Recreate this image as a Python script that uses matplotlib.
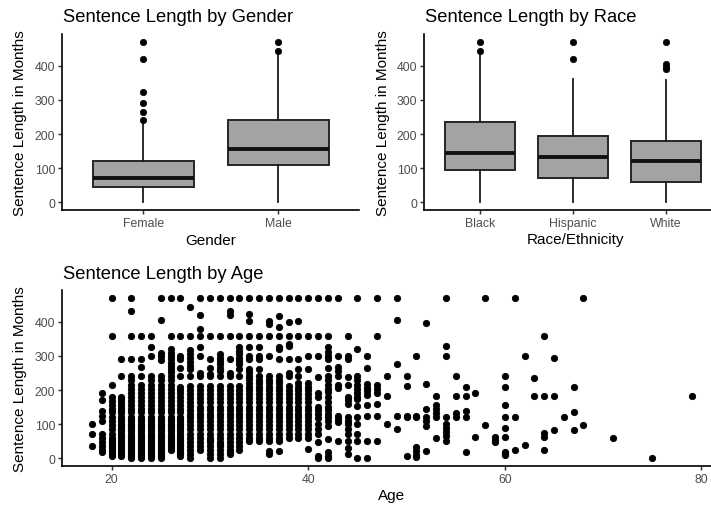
import matplotlib
matplotlib.use("Agg")
import matplotlib.pyplot as plt

plt.rcParams['font.family'] = ['Liberation Sans', 'DejaVu Sans']

# ---------------- data ----------------
gender_labels = ["Female", "Male"]
gender_q1 = [43, 108]
gender_med = [72, 156]
gender_q3 = [120, 240]
gender_whislo = [0, 0]
gender_whishi = [234, 436]
gender_outliers = [[240, 264, 292, 324, 420, 470], [444, 470]]

race_labels = ["Black", "Hispanic", "White"]
race_q1 = [95, 72, 60]
race_med = [144, 131, 120]
race_q3 = [235, 194, 180]
race_whislo = [0, 0, 0]
race_whishi = [436, 362, 360]
race_outliers = [[444, 470], [420, 470], [392, 398, 405, 470]]

sentences_by_age = {
    18: [100, 70, 36],
    19: [190, 172, 138, 124, 110, 70, 60, 48, 36, 24, 18],
    20: [470, 360, 216, 180, 168, 156, 144, 135, 120, 108, 96, 84, 72, 60, 54, 48, 42, 36, 30, 24, 18, 12, 6],
    21: [292, 240, 180, 174, 168, 160, 150, 144, 138, 132, 120, 114, 108, 100, 96, 90, 84, 78, 72, 66, 60, 54,
         48, 42, 36, 30, 24, 18, 12, 6],
    22: [470, 433, 360, 292, 240, 228, 216, 204, 192, 180, 168, 156, 144, 135, 120, 114, 108, 100, 96, 90, 84,
         78, 72, 66, 60, 54, 48, 42, 36, 30, 24, 18, 12, 6, 0],
    23: [360, 292, 267, 240, 216, 204, 192, 180, 168, 156, 144, 135, 120, 114, 108, 100, 96, 90, 84, 78, 72, 66,
         60, 54, 48, 42, 36, 30, 24, 18, 12, 6, 0],
    24: [360, 325, 300, 240, 228, 216, 204, 192, 180, 168, 156, 144, 135, 120, 114, 108, 100, 96, 90, 84, 78, 72,
         66, 60, 54, 48, 42, 36, 30, 24, 18, 12, 6, 0],
    25: [470, 405, 310, 300, 288, 240, 228, 216, 204, 192, 180, 168, 156, 144, 135, 120, 114, 108, 100, 96, 90,
         84, 78, 72, 66, 60, 54, 48, 42, 36, 30, 24, 18, 12, 6, 0],
    26: [470, 360, 320, 310, 300, 290, 280, 270, 262, 252, 240, 228, 216, 204, 192, 180, 168, 156, 144, 135, 120,
         114, 108, 100, 96, 90, 84, 78, 72, 66, 60, 54, 48, 42, 36, 30, 24],
    27: [470, 360, 300, 290, 266, 240, 210, 200, 190, 180, 168, 156, 144, 135, 120, 114, 108, 100, 96, 90, 84, 78,
         72, 66, 60, 54, 48, 42, 36, 30, 24, 18, 12, 6],
    28: [445, 360, 318, 306, 294, 282, 270, 262, 240, 212, 200, 188, 176, 164, 152, 140, 128, 120, 108, 96, 84,
         72, 60, 48, 36, 24, 12, 0],
    29: [470, 420, 380, 360, 325, 300, 250, 240, 212, 200, 188, 176, 164, 150, 140, 128, 120, 108, 96, 84, 72, 60,
         48, 36, 24],
    30: [470, 360, 291, 266, 247, 240, 212, 200, 188, 176, 164, 150, 140, 128, 120, 108, 96, 84, 72, 60, 54, 48,
         36, 24, 12, 0],
    31: [470, 360, 305, 295, 285, 275, 265, 257, 240, 212, 200, 188, 176, 164, 150, 140, 128, 120, 108, 96, 84,
         72, 60, 48, 42, 36, 24, 12, 0],
    32: [470, 433, 420, 360, 291, 250, 240, 212, 200, 188, 176, 164, 150, 140, 128, 120, 108, 96, 84, 72, 60, 48,
         36, 24, 18, 12],
    33: [470, 360, 325, 315, 305, 295, 285, 275, 262, 240, 212, 200, 188, 176, 164, 150, 140, 128, 120, 108, 96,
         84, 72, 60, 48, 36, 24],
    34: [470, 423, 404, 360, 325, 300, 290, 262, 252, 242, 232, 220, 210, 200, 188, 176, 164, 150, 140, 128, 120,
         108, 96, 84, 72, 60, 51],
    35: [470, 360, 325, 300, 290, 262, 240, 230, 220, 210, 200, 188, 176, 164, 150, 140, 128, 120, 108, 96, 84,
         72, 60, 51],
    36: [470, 404, 394, 360, 300, 240, 230, 220, 210, 200, 188, 176, 164, 150, 140, 128, 120, 108, 96, 84, 72, 60,
         51, 22, 12],
    37: [470, 418, 384, 360, 325, 320, 292, 240, 230, 220, 210, 200, 188, 176, 164, 150, 140, 128, 120, 108, 96,
         84, 72, 60, 51, 21],
    38: [470, 399, 360, 335, 330, 292, 250, 240, 212, 200, 188, 176, 164, 150, 140, 128, 120, 108, 96, 84, 72, 60],
    39: [470, 404, 360, 292, 262, 240, 222, 210, 200, 188, 176, 164, 150, 140, 128, 120, 108, 96, 84, 72, 60],
    40: [470, 360, 300, 262, 222, 210, 200, 188, 176, 164, 150, 140, 128, 120, 108, 96, 84, 72, 60, 26],
    41: [470, 360, 300, 237, 190, 180, 150, 140, 128, 118, 100, 84, 70, 46, 7, 0],
    42: [470, 360, 325, 312, 300, 290, 266, 240, 228, 216, 204, 193, 180, 164, 150, 140, 128, 120, 108, 95, 56,
         17, 6, 0],
    43: [470, 301, 267, 257, 240, 216, 205, 124, 116, 105, 51],
    44: [360, 300, 292, 237, 216, 180, 170, 160, 120, 110, 100, 85, 72, 51, 30, 12],
    45: [470, 320, 240, 228, 216, 204, 192, 180, 173, 152, 122, 100, 72, 50, 0],
    46: [301, 264, 217, 206, 196, 184, 155, 124, 50, 0],
    47: [470, 360, 214, 202, 191, 160, 124, 50],
    48: [242, 183, 99],
    49: [470, 406, 277, 124, 85],
    50: [242, 213, 124, 120, 7],
    51: [301, 124, 120, 31, 20, 10, 2],
    52: [397, 218, 144, 120, 108, 95, 21],
    53: [183, 155, 144, 132, 120, 59],
    54: [470, 330, 301, 120, 100, 88, 76, 64, 51],
    55: [240, 183, 133, 120],
    56: [210, 183, 139, 120, 19],
    57: [190, 61],
    58: [470, 97],
    59: [61, 53, 46],
    60: [240, 210, 156, 121, 87, 61, 19, 14, 9],
    61: [470, 120, 25],
    62: [301, 37],
    63: [235, 181],
    64: [360, 181, 74, 61, 25],
    65: [293, 181, 83],
    66: [120],
    67: [210, 134, 83],
    68: [470, 97],
    71: [60],
    75: [0],
    79: [181],
}

y_ticks = [0, 100, 200, 300, 400]
age_ticks = [20, 40, 60, 80]

# ---------------- figure ----------------
W, H = 711, 506
fig = plt.figure(figsize=(W / 100, H / 100), dpi=100)


def add_axes_px(x0, y0, x1, y1):
    return fig.add_axes([x0 / W, 1 - y1 / H, (x1 - x0) / W, (y1 - y0) / H])


def style(ax):
    for s in ("top", "right"):
        ax.spines[s].set_visible(False)
    for s in ("left", "bottom"):
        ax.spines[s].set_linewidth(1.2)
        ax.spines[s].set_color("black")
    ax.tick_params(length=2.75, width=1.07, color="#333333", labelcolor="#4D4D4D",
                   labelsize=8.8, pad=2.2)
    ax.set_yticks(y_ticks)
    ax.set_ylim(-23.5, 493.5)
    ax.set_facecolor("white")


def draw_box(ax, labels, q1, med, q3, lo, hi, outl):
    stats = []
    for i in range(len(labels)):
        stats.append(dict(label=labels[i], q1=q1[i], med=med[i], q3=q3[i],
                          whislo=lo[i], whishi=hi[i], fliers=outl[i]))
    pos = list(range(1, len(labels) + 1))
    ax.bxp(stats, positions=pos, widths=0.75, patch_artist=True, showcaps=False,
           boxprops=dict(facecolor="#A3A3A3", edgecolor="#262626", linewidth=1.4),
           medianprops=dict(color="#111111", linewidth=2.8, solid_capstyle="butt"),
           whiskerprops=dict(color="#1A1A1A", linewidth=1.3),
           flierprops=dict(marker="o", markersize=4.6, markerfacecolor="black",
                           markeredgecolor="black", markeredgewidth=0.5, linestyle="none"))
    ax.set_xticks(pos)
    ax.set_xticklabels(labels)
    ax.set_xlim(0.4, len(labels) + 0.6)


# Top-left: gender
ax1 = add_axes_px(62.3, 35.2, 359.3, 211)
style(ax1)
draw_box(ax1, gender_labels, gender_q1, gender_med, gender_q3, gender_whislo,
         gender_whishi, gender_outliers)

# Top-right: race
ax2 = add_axes_px(424.3, 35.2, 721.4, 211)
style(ax2)
draw_box(ax2, race_labels, race_q1, race_med, race_q3, race_whislo,
         race_whishi, race_outliers)

# Bottom: age scatter
ax3 = add_axes_px(62, 291.2, 721.6, 467)
style(ax3)
xs, ys = [], []
for a, vals in sentences_by_age.items():
    for v in vals:
        xs.append(a)
        ys.append(v)
ax3.scatter(xs, ys, s=21, c="black", edgecolors="black", linewidths=0.6, zorder=3)
ax3.set_xticks(age_ticks)
ax3.set_xlim(14.95, 82.05)

# Titles and axis labels
def ftext(x, y, s, **kw):
    fig.text(x / W, 1 - y / H, s, **kw)

ftext(63, 22, "Sentence Length by Gender", fontsize=13.2, ha="left", va="baseline")
ftext(425, 22, "Sentence Length by Race", fontsize=13.2, ha="left", va="baseline")
ftext(63, 278.7, "Sentence Length by Age", fontsize=13.2, ha="left", va="baseline")

ftext(20, 123, "Sentence Length in Months", fontsize=11, rotation=90, ha="center", va="center")
ftext(383.5, 123, "Sentence Length in Months", fontsize=11, rotation=90, ha="center", va="center")
ftext(20, 379, "Sentence Length in Months", fontsize=11, rotation=90, ha="center", va="center")

ftext(211, 245, "Gender", fontsize=11, ha="center", va="baseline")
ftext(576, 244.5, "Race/Ethnicity", fontsize=11, ha="center", va="baseline")
ftext(391.8, 500, "Age", fontsize=11, ha="center", va="baseline")

fig.savefig("out.png", dpi=100, facecolor="white")
